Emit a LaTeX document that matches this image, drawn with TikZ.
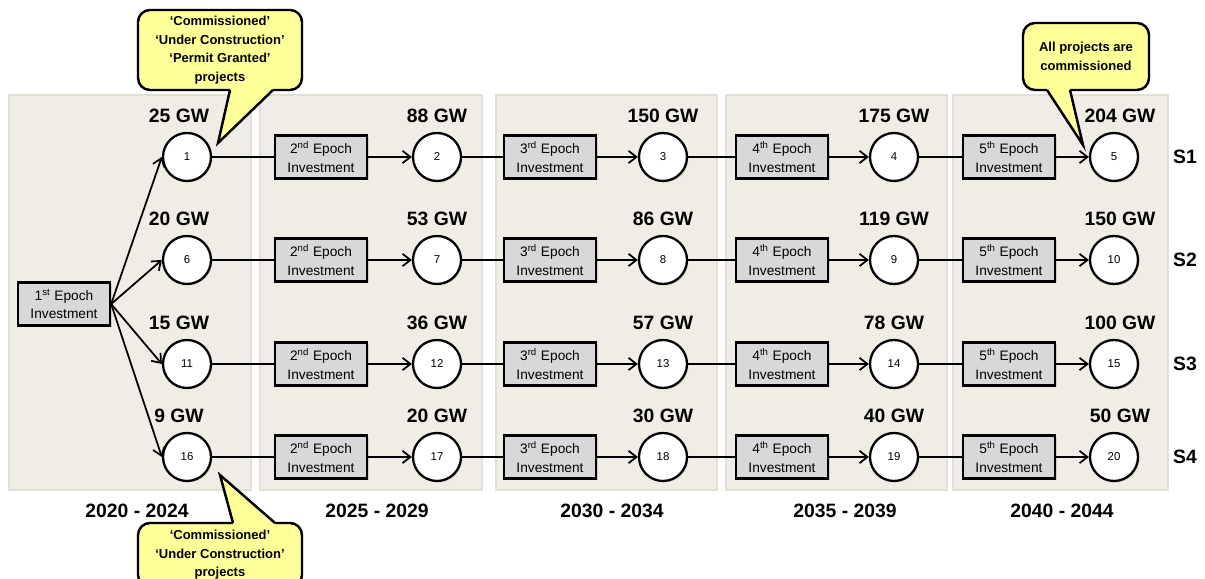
\documentclass[tikz,border=0pt]{standalone}
\usepackage{fontspec}
\setmainfont{Liberation Sans}
\usepackage{xcolor}
\usetikzlibrary{positioning, shapes, arrows.meta, shadows, calc}

\definecolor{panelfill}{HTML}{EFEDE5}
\definecolor{panelline}{HTML}{E2DFD7}
\definecolor{boxfill}{HTML}{D8D8D8}
\definecolor{notefill}{HTML}{FFFF99}

\begin{document}
\begin{tikzpicture}[
    panel/.style={rectangle, fill=panelfill, draw=panelline, line width=0.8pt},
    invest/.style={rectangle, draw, fill=boxfill, line width=1.3pt, minimum width=1.84cm, minimum height=0.86cm, inner sep=0pt, align=center, font=\fontsize{7.8}{10.5}\selectfont, drop shadow={opacity=0.3, shadow xshift=0.04cm, shadow yshift=-0.04cm}},
    state/.style={circle, draw, fill=white, line width=1.3pt, minimum size=0.96cm, inner sep=0pt, font=\fontsize{6.5}{7}\selectfont, drop shadow={opacity=0.2, shadow xshift=0.03cm, shadow yshift=-0.03cm}},
    gw/.style={font=\fontsize{11}{13}\selectfont\bfseries},
    note/.style={rectangle, rounded corners=0.24cm, draw, fill=notefill, line width=1.4pt, align=center, inner sep=0pt, font=\fontsize{7.4}{10.5}\selectfont\bfseries},
    pointer/.style={line width=1.4pt, line join=miter},
    link/.style={line width=1pt},
    flow/.style={line width=1pt, -{Straight Barb[length=4.5pt, width=7pt]}}
]
    \useasboundingbox (0, 0) rectangle (24.1, 11.58);

    % background panels, one per period
    \foreach \xa/\xb in {0.18/5.02, 5.20/9.64, 9.92/14.34, 14.52/18.94, 19.06/23.36} {
        \draw[panel] (\xa, 1.78) rectangle (\xb, 9.68);
    }

    \node[invest] (inv1) at (1.28, 5.50) {1\textsuperscript{st} Epoch\\Investment};

    % scenario rows
    \foreach \r/\y in {1/8.44, 2/6.38, 3/4.30, 4/2.44} {
        \pgfmathtruncatemacro{\a}{5*\r-4}
        \node[state] (n\a) at (3.74, \y) {\a};
        \node[gw] (s\r) at (23.7, \y) {S\r};
        \draw[flow] (inv1.east) -- (n\a.west);
        \foreach \c/\x/\bx/\ord in {2/8.74/6.42/nd, 3/13.26/11.0/rd, 4/17.88/15.64/th, 5/22.28/20.18/th} {
            \pgfmathtruncatemacro{\n}{5*\r-5+\c}
            \pgfmathtruncatemacro{\p}{\n-1}
            \node[invest] (b\r\c) at (\bx, \y) {\c\textsuperscript{\ord} Epoch\\Investment};
            \node[state] (n\n) at (\x, \y) {\n};
            \draw[link] (n\p) -- (b\r\c);
            \draw[flow] (b\r\c) -- (n\n);
        }
    }

    % installed capacity above each state
    \foreach \a/\v in {1/25, 2/88, 3/150, 4/175, 5/204, 6/20, 7/53, 8/86, 9/119, 10/150,
                       11/15, 12/36, 13/57, 14/78, 15/100, 16/9, 17/20, 18/30, 19/40, 20/50} {
        \pgfmathtruncatemacro{\c}{mod(\a-1,5)+1}
        \pgfmathsetmacro{\dx}{(\c==1)*(-0.16)+(\c==5)*0.12}
        \node[gw, above=0.05cm of n\a, xshift=\dx cm] (g\a) {\v~GW};
    }

    \foreach \x/\t [count=\i] in {2.74/2020 - 2024, 7.54/2025 - 2029, 12.24/2030 - 2034, 16.9/2035 - 2039, 21.24/2040 - 2044} {
        \node[gw] (p\i) at (\x, 1.36) {\t};
    }

    % callouts
    \node[note, minimum width=3.28cm, minimum height=1.60cm] (noteA) at (4.40, 10.58) {‘Commissioned’\\‘Under Construction’\\‘Permit Granted’\\projects};
    \coordinate (tipA) at (4.36, 8.72);
    \fill[notefill] (4.60, 9.84) -- (4.60, 9.78) -- (tipA) -- (5.46, 9.78) -- (5.46, 9.84) -- cycle;
    \draw[pointer] (4.60, 9.78) -- (tipA) -- (5.46, 9.78);

    \node[note, minimum width=3.28cm, minimum height=1.28cm] (noteB) at (4.40, 0.48) {‘Commissioned’\\‘Under Construction’\\projects};
    \coordinate (tipB) at (4.40, 2.08);
    \fill[notefill] (4.66, 1.06) -- (4.66, 1.12) -- (tipB) -- (5.50, 1.12) -- (5.50, 1.06) -- cycle;
    \draw[pointer] (4.66, 1.12) -- (tipB) -- (5.50, 1.12);

    \node[note, minimum width=2.52cm, minimum height=1.34cm] (noteC) at (21.72, 10.45) {All projects are\\commissioned};
    \coordinate (tipC) at (21.66, 8.68);
    \fill[notefill] (20.94, 9.84) -- (20.94, 9.78) -- (tipC) -- (21.40, 9.78) -- (21.40, 9.84) -- cycle;
    \draw[pointer] (20.94, 9.78) -- (tipC) -- (21.40, 9.78);
\end{tikzpicture}
\end{document}
